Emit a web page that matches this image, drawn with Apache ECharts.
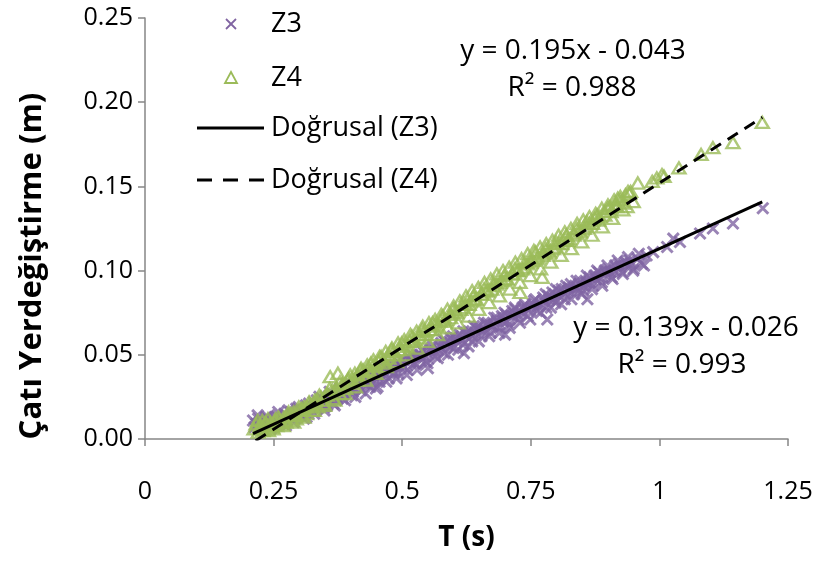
<!DOCTYPE html>
<html><head><meta charset="utf-8">
<script src="https://cdn.jsdelivr.net/npm/echarts@6/dist/echarts.min.js"></script>
<style>html,body{margin:0;padding:0;background:#fff}#c{width:823px;height:561px}</style>
</head><body><div id="c"></div>
<script>
const xTicks = [0, 0.25, 0.5, 0.75, 1, 1.25];
const yTicks = [0, 0.05, 0.10, 0.15, 0.20, 0.25];
const seriesNames = ['Z3', 'Z4', 'Doğrusal (Z3)', 'Doğrusal (Z4)'];
const z3 = [[0.210,0.011],[0.213,0.007],[0.216,0.009],[0.220,0.012],[0.223,0.006],[0.227,0.010],[0.231,0.008],[0.235,0.013],[0.238,0.009],[0.242,0.011],[0.246,0.007],[0.250,0.012],[0.254,0.010],[0.258,0.014],[0.262,0.009],[0.266,0.012],[0.271,0.015],[0.275,0.011],[0.280,0.013],[0.284,0.016],[0.289,0.012],[0.294,0.015],[0.298,0.018],[0.303,0.014],[0.308,0.017],[0.313,0.020],[0.318,0.015],[0.323,0.019],[0.328,0.022],[0.333,0.018],[0.338,0.021],[0.344,0.024],[0.349,0.019],[0.355,0.023],[0.360,0.026],[0.366,0.021],[0.372,0.025],[0.378,0.029],[0.384,0.024],[0.390,0.028],[0.396,0.031],[0.402,0.026],[0.408,0.030],[0.414,0.034],[0.420,0.029],[0.426,0.033],[0.432,0.037],[0.438,0.031],[0.444,0.036],[0.450,0.039],[0.452,0.031],[0.456,0.034],[0.462,0.038],[0.468,0.042],[0.474,0.036],[0.480,0.041],[0.486,0.044],[0.492,0.039],[0.498,0.043],[0.504,0.047],[0.510,0.041],[0.516,0.046],[0.522,0.049],[0.528,0.044],[0.534,0.048],[0.540,0.052],[0.546,0.046],[0.550,0.042],[0.552,0.051],[0.558,0.054],[0.564,0.049],[0.570,0.053],[0.576,0.057],[0.582,0.051],[0.588,0.056],[0.594,0.060],[0.600,0.054],[0.606,0.058],[0.612,0.062],[0.618,0.056],[0.620,0.051],[0.624,0.061],[0.630,0.064],[0.636,0.058],[0.642,0.063],[0.648,0.067],[0.654,0.061],[0.660,0.065],[0.666,0.069],[0.672,0.063],[0.678,0.068],[0.684,0.072],[0.690,0.066],[0.696,0.070],[0.700,0.062],[0.702,0.074],[0.708,0.068],[0.714,0.073],[0.720,0.077],[0.726,0.071],[0.732,0.075],[0.738,0.079],[0.744,0.073],[0.750,0.078],[0.756,0.082],[0.762,0.076],[0.768,0.080],[0.774,0.084],[0.780,0.078],[0.782,0.071],[0.786,0.083],[0.792,0.087],[0.798,0.081],[0.804,0.085],[0.810,0.089],[0.816,0.083],[0.822,0.088],[0.828,0.092],[0.834,0.086],[0.840,0.090],[0.846,0.094],[0.852,0.088],[0.858,0.093],[0.860,0.083],[0.864,0.096],[0.870,0.091],[0.876,0.095],[0.882,0.099],[0.888,0.093],[0.894,0.098],[0.900,0.101],[0.907,0.096],[0.914,0.100],[0.921,0.104],[0.928,0.099],[0.935,0.103],[0.942,0.106],[0.950,0.101],[0.958,0.107],[0.966,0.104],[0.975,0.109],[0.988,0.111],[1.015,0.114],[1.027,0.119],[1.040,0.117],[1.079,0.122],[1.104,0.125],[1.143,0.128],[1.201,0.137],
[0.219,0.014],[0.229,0.005],[0.239,0.013],[0.249,0.008],[0.259,0.016],[0.269,0.009],[0.279,0.017],[0.289,0.010],[0.299,0.019],[0.309,0.012],[0.319,0.021],[0.329,0.015],[0.339,0.025],[0.349,0.017],[0.359,0.028],[0.369,0.020],[0.379,0.030],[0.389,0.023],[0.399,0.033],[0.409,0.025],[0.419,0.035],[0.429,0.027],[0.439,0.039],[0.449,0.030],[0.459,0.041],[0.469,0.034],[0.479,0.044],[0.489,0.036],[0.499,0.047],[0.509,0.038],[0.519,0.050],[0.529,0.041],[0.539,0.053],[0.549,0.045],[0.559,0.056],[0.569,0.048],[0.579,0.059],[0.589,0.050],[0.599,0.061],[0.609,0.053],[0.619,0.064],[0.629,0.055],[0.639,0.067],[0.649,0.058],[0.659,0.069],[0.669,0.061],[0.679,0.072],[0.689,0.063],[0.699,0.075],[0.709,0.066],[0.719,0.078],[0.729,0.069],[0.739,0.080],[0.749,0.071],[0.759,0.083],[0.769,0.075],[0.779,0.086],[0.789,0.078],[0.799,0.089],[0.809,0.080],[0.819,0.091],[0.829,0.083],[0.839,0.094],[0.849,0.086],[0.859,0.097],[0.869,0.089],[0.879,0.100],[0.889,0.091],[0.899,0.103],[0.909,0.095],[0.919,0.106],[0.929,0.098],[0.939,0.108],[0.949,0.100],[0.960,0.110],[0.970,0.103],
[0.224,0.009],[0.234,0.011],[0.244,0.006],[0.254,0.013],[0.264,0.011],[0.274,0.008],[0.284,0.014],[0.294,0.018],[0.304,0.016],[0.314,0.013],[0.324,0.018],[0.334,0.023],[0.344,0.020],[0.354,0.020],[0.364,0.027],[0.374,0.024],[0.384,0.028],[0.394,0.030],[0.404,0.028],[0.414,0.032],[0.424,0.036],[0.434,0.032],[0.444,0.038],[0.454,0.037],[0.464,0.040],[0.474,0.042],[0.484,0.039],[0.494,0.045],[0.504,0.043],[0.514,0.048],[0.524,0.045],[0.534,0.050],[0.544,0.049],[0.554,0.053],[0.564,0.052],[0.574,0.055],[0.584,0.058],[0.594,0.055],[0.604,0.060],[0.614,0.059],[0.624,0.063],[0.634,0.061],[0.644,0.066],[0.654,0.064],[0.664,0.068],[0.674,0.067],[0.684,0.070],[0.694,0.073],[0.704,0.070],[0.714,0.076],[0.724,0.074],[0.734,0.078],[0.744,0.077],[0.754,0.080],[0.764,0.079],[0.774,0.082],[0.784,0.085],[0.794,0.083],[0.804,0.088],[0.814,0.086],[0.824,0.090],[0.834,0.089],[0.844,0.092],[0.854,0.091],[0.864,0.093],[0.874,0.097],[0.884,0.096],[0.894,0.100],[0.904,0.099],[0.914,0.103],[0.924,0.102],[0.934,0.105],[0.944,0.104]];
const z4 = [[0.212,0.006],[0.216,0.009],[0.220,0.004],[0.224,0.008],[0.228,0.011],[0.232,0.006],[0.236,0.009],[0.240,0.005],[0.244,0.010],[0.248,0.007],[0.252,0.011],[0.256,0.008],[0.261,0.012],[0.265,0.009],[0.270,0.013],[0.274,0.010],[0.279,0.014],[0.284,0.011],[0.289,0.016],[0.294,0.012],[0.299,0.017],[0.304,0.014],[0.309,0.019],[0.314,0.015],[0.320,0.021],[0.325,0.017],[0.330,0.023],[0.336,0.019],[0.342,0.025],[0.348,0.021],[0.354,0.027],[0.360,0.037],[0.366,0.024],[0.372,0.030],[0.375,0.039],[0.378,0.027],[0.384,0.033],[0.390,0.030],[0.396,0.036],[0.402,0.033],[0.408,0.039],[0.414,0.035],[0.420,0.042],[0.426,0.038],[0.432,0.044],[0.438,0.040],[0.444,0.047],[0.450,0.043],[0.456,0.049],[0.462,0.045],[0.468,0.052],[0.474,0.048],[0.480,0.054],[0.486,0.050],[0.492,0.057],[0.498,0.053],[0.504,0.059],[0.510,0.055],[0.516,0.062],[0.522,0.058],[0.528,0.064],[0.534,0.060],[0.540,0.067],[0.546,0.062],[0.552,0.069],[0.558,0.065],[0.564,0.071],[0.570,0.067],[0.576,0.074],[0.582,0.070],[0.588,0.077],[0.594,0.072],[0.600,0.079],[0.606,0.075],[0.612,0.082],[0.618,0.078],[0.624,0.085],[0.630,0.080],[0.636,0.088],[0.642,0.083],[0.648,0.090],[0.654,0.086],[0.660,0.093],[0.666,0.088],[0.672,0.095],[0.678,0.091],[0.684,0.098],[0.690,0.093],[0.696,0.100],[0.702,0.095],[0.708,0.102],[0.714,0.098],[0.720,0.105],[0.726,0.100],[0.729,0.087],[0.732,0.107],[0.738,0.102],[0.744,0.110],[0.750,0.105],[0.756,0.112],[0.762,0.107],[0.768,0.114],[0.772,0.096],[0.774,0.109],[0.780,0.116],[0.786,0.111],[0.792,0.118],[0.798,0.114],[0.804,0.121],[0.810,0.116],[0.816,0.123],[0.822,0.118],[0.828,0.125],[0.834,0.121],[0.840,0.128],[0.846,0.123],[0.852,0.130],[0.858,0.126],[0.864,0.132],[0.870,0.128],[0.876,0.134],[0.882,0.130],[0.888,0.137],[0.894,0.133],[0.900,0.139],[0.906,0.135],[0.912,0.142],[0.918,0.138],[0.924,0.144],[0.930,0.140],[0.937,0.138],[0.942,0.146],[0.958,0.152],[0.986,0.153],[0.995,0.155],[1.005,0.157],[1.009,0.156],[1.038,0.161],[1.081,0.169],[1.104,0.173],[1.143,0.176],[1.200,0.188],
[0.219,0.011],[0.229,0.005],[0.239,0.012],[0.249,0.006],[0.259,0.013],[0.269,0.008],[0.279,0.016],[0.289,0.010],[0.299,0.019],[0.309,0.013],[0.319,0.022],[0.329,0.017],[0.339,0.026],[0.349,0.020],[0.359,0.030],[0.369,0.023],[0.379,0.034],[0.389,0.027],[0.399,0.038],[0.409,0.031],[0.419,0.041],[0.429,0.035],[0.439,0.045],[0.449,0.039],[0.459,0.049],[0.469,0.043],[0.479,0.053],[0.489,0.046],[0.499,0.057],[0.509,0.050],[0.519,0.061],[0.529,0.054],[0.539,0.065],[0.549,0.058],[0.559,0.069],[0.569,0.062],[0.579,0.073],[0.589,0.066],[0.599,0.077],[0.609,0.069],[0.619,0.081],[0.629,0.073],[0.639,0.085],[0.649,0.077],[0.659,0.089],[0.669,0.081],[0.679,0.093],[0.689,0.085],[0.699,0.097],[0.709,0.089],[0.719,0.101],[0.729,0.093],[0.739,0.105],[0.749,0.097],[0.759,0.111],[0.769,0.101],[0.779,0.113],[0.789,0.105],[0.799,0.117],[0.809,0.109],[0.819,0.121],[0.829,0.113],[0.839,0.125],[0.849,0.117],[0.859,0.129],[0.869,0.121],[0.879,0.133],[0.889,0.126],[0.899,0.137],[0.909,0.131],[0.919,0.143],[0.929,0.136],[0.939,0.147],[0.949,0.141],
[0.224,0.007],[0.234,0.010],[0.244,0.008],[0.254,0.012],[0.264,0.010],[0.274,0.013],[0.284,0.015],[0.294,0.014],[0.304,0.018],[0.314,0.019],[0.324,0.020],[0.334,0.023],[0.344,0.023],[0.354,0.026],[0.364,0.029],[0.374,0.029],[0.384,0.032],[0.394,0.035],[0.404,0.035],[0.414,0.038],[0.424,0.041],[0.434,0.041],[0.444,0.044],[0.454,0.046],[0.464,0.047],[0.474,0.050],[0.484,0.052],[0.494,0.053],[0.504,0.056],[0.514,0.058],[0.524,0.059],[0.534,0.062],[0.544,0.064],[0.554,0.065],[0.564,0.068],[0.574,0.070],[0.584,0.071],[0.594,0.074],[0.604,0.076],[0.614,0.077],[0.624,0.080],[0.634,0.082],[0.644,0.083],[0.654,0.086],[0.664,0.088],[0.674,0.089],[0.684,0.092],[0.694,0.094],[0.704,0.095],[0.714,0.098],[0.724,0.100],[0.734,0.101],[0.744,0.104],[0.754,0.106],[0.764,0.108],[0.774,0.110],[0.784,0.112],[0.794,0.113],[0.804,0.116],[0.814,0.118],[0.824,0.119],[0.834,0.122],[0.844,0.124],[0.854,0.125],[0.864,0.128],[0.874,0.131],[0.884,0.132],[0.894,0.135],[0.904,0.138],[0.914,0.139],[0.924,0.142],[0.934,0.145],[0.944,0.147]];
const fitZ3 = [[0.21, 0.0032], [1.2, 0.1408]];
const fitZ4 = [[0.215, -0.001], [1.2, 0.191]];
const eqZ4 = ['y = 0.195x - 0.043', 'R² = 0.988'];
const eqZ3 = ['y = 0.139x - 0.026', 'R² = 0.993'];
const xTitle = 'T (s)';
const yTitle = 'Çatı Yerdeğiştirme (m)';

const FONT = 'Open Sans';
const axisCol = '#868686';
const purple = '#8064A2', green = '#9BBB59';
const chart = echarts.init(document.getElementById('c'), null, {renderer: 'canvas'});
const txt = (x, y, s, size, align) => ({type: 'text', x: x, y: y,
  style: {text: s, font: size + 'px "Open Sans"', fill: '#000', textAlign: align, textVerticalAlign: 'middle'}});
const legendRows = [24, 78, 128, 180];
chart.setOption({
  animation: false,
  grid: {left: 145, right: 35, top: 18, bottom: 122},
  xAxis: {
    type: 'value', min: 0, max: 1.25, interval: 0.25,
    splitLine: {show: false},
    axisLine: {onZero: false, lineStyle: {color: axisCol, width: 1.5}},
    axisTick: {show: true, length: 7, inside: false, lineStyle: {color: axisCol, width: 1.5}},
    axisLabel: {fontFamily: FONT, fontSize: 25, color: '#000', margin: 40,
      formatter: v => String(xTicks.find(t => Math.abs(t - v) < 1e-9) ?? v)},
    name: xTitle, nameLocation: 'middle', nameGap: 85,
    nameTextStyle: {fontFamily: FONT, fontSize: 28, fontWeight: 'bold', color: '#000'}
  },
  yAxis: {
    type: 'value', min: 0, max: 0.25, interval: 0.05,
    splitLine: {show: false},
    axisLine: {show: true, lineStyle: {color: axisCol, width: 1.5}},
    axisTick: {show: true, length: 7, lineStyle: {color: axisCol, width: 1.5}},
    axisLabel: {fontFamily: FONT, fontSize: 25, color: '#000', margin: 12,
      formatter: v => (yTicks.find(t => Math.abs(t - v) < 1e-9) ?? v).toFixed(2)}
  },
  graphic: [
    {type: 'text', x: 32, y: 266, rotation: Math.PI / 2,
      style: {text: yTitle, font: 'bold 31px "Open Sans"', fill: '#000', textAlign: 'center', textVerticalAlign: 'middle'}},
    txt(573, 51, eqZ4[0], 28, 'center'),
    txt(572, 88, eqZ4[1], 28, 'center'),
    txt(686, 328, eqZ3[0], 28, 'center'),
    txt(682, 365, eqZ3[1], 28, 'center'),
    {type: 'line', shape: {x1: 226, y1: 19, x2: 236, y2: 29}, style: {stroke: purple, lineWidth: 1.8}},
    {type: 'line', shape: {x1: 236, y1: 19, x2: 226, y2: 29}, style: {stroke: purple, lineWidth: 1.8}},
    {type: 'polygon', shape: {points: [[231, 72], [237, 83], [225, 83]]}, style: {fill: 'none', stroke: green, lineWidth: 1.8}},
    {type: 'line', shape: {x1: 197, y1: 128, x2: 264, y2: 128}, style: {stroke: '#000', lineWidth: 3}},
    {type: 'line', shape: {x1: 197, y1: 180, x2: 264, y2: 180}, style: {stroke: '#000', lineWidth: 3, lineDash: [15, 11]}},
    txt(271, legendRows[0], seriesNames[0], 27, 'left'),
    txt(271, legendRows[1], seriesNames[1], 27, 'left'),
    txt(271, legendRows[2], seriesNames[2], 27, 'left'),
    txt(271, legendRows[3], seriesNames[3], 27, 'left')
  ],
  series: [
    {name: seriesNames[0], type: 'scatter', data: z3, symbol: 'path://M0,0L10,10M10,0L0,10', symbolSize: 11,
      itemStyle: {color: 'rgba(0,0,0,0)', borderColor: purple, borderWidth: 3}},
    {name: seriesNames[1], type: 'scatter', data: z4, symbol: 'triangle', symbolSize: [13, 11],
      itemStyle: {color: 'rgba(255,255,255,0)', borderColor: green, borderWidth: 2.4}},
    {name: seriesNames[2], type: 'line', data: fitZ3, symbol: 'none', clip: true,
      lineStyle: {color: '#000', width: 3}},
    {name: seriesNames[3], type: 'line', data: fitZ4, symbol: 'none', clip: true,
      lineStyle: {color: '#000', width: 3, type: [12, 8]}}
  ]
});
</script></body></html>
